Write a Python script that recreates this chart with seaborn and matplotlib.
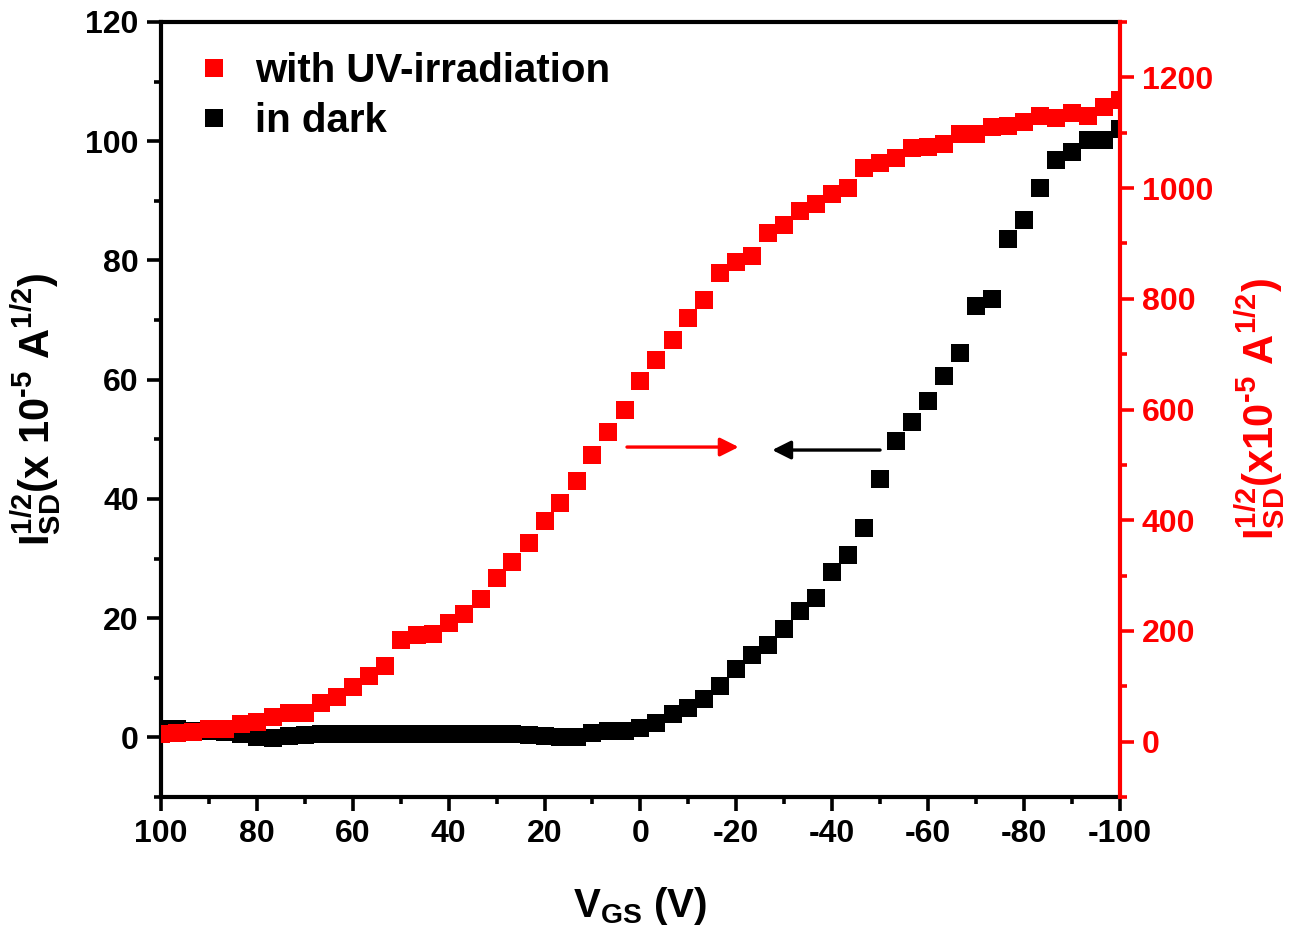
import matplotlib
matplotlib.use("Agg")
import numpy as np
import pandas as pd
import matplotlib.pyplot as plt
from matplotlib.ticker import MultipleLocator
from matplotlib.lines import Line2D
import seaborn as sns

# Gate-voltage sweep (V)
vgs = [100.0, 96.7, 93.3, 90.0, 86.7, 83.3, 80.0, 76.7, 73.3, 70.0,
       66.7, 63.3, 60.0, 56.7, 53.3, 50.0, 46.7, 43.3, 40.0, 36.7,
       33.3, 30.0, 26.7, 23.3, 20.0, 16.7, 13.3, 10.0, 6.7, 3.3,
       0.0, -3.3, -6.7, -10.0, -13.3, -16.7, -20.0, -23.3, -26.7, -30.0,
       -33.3, -36.7, -40.0, -43.3, -46.7, -50.0, -53.3, -56.7, -60.0, -63.3,
       -66.7, -70.0, -73.3, -76.7, -80.0, -83.3, -86.7, -90.0, -93.3, -96.7,
       -100.0]

# sqrt(I_SD) in the dark, units of 1e-5 A^1/2 (left axis)
dark = [1.4, 1.4, 1.1, 1.1, 0.9, 0.6, 0.1, -0.1, 0.25, 0.4,
        0.5, 0.55, 0.6, 0.6, 0.6, 0.6, 0.6, 0.6, 0.6, 0.6,
        0.6, 0.55, 0.5, 0.45, 0.25, 0.1, 0.1, 0.75, 1.1, 1.1,
        1.6, 2.4, 3.9, 5.0, 6.5, 8.6, 11.5, 13.8, 15.5, 18.2,
        21.2, 23.4, 27.8, 30.6, 35.2, 43.4, 49.8, 52.9, 56.5, 60.7,
        64.4, 72.4, 73.6, 83.6, 86.8, 92.2, 96.9, 98.2, 100.2, 100.2,
        102.1]

# sqrt(I_SD) under UV irradiation, units of 1e-5 A^1/2 (right axis)
uv = [14, 16, 18, 22, 23, 31, 36, 45, 51, 52,
      69, 81, 98, 118, 137, 184, 192, 195, 215, 231,
      257, 295, 325, 358, 398, 432, 470, 517, 560, 600,
      652, 689, 725, 766, 797, 846, 866, 878, 918, 934,
      958, 971, 990, 1000, 1036, 1045, 1054, 1072, 1074, 1079,
      1097, 1097, 1110, 1112, 1119, 1130, 1126, 1135, 1130, 1146,
      1159]

series_labels = ["with UV-irradiation", "in dark"]
series_colors = ["#ff0000", "#000000"]

df = pd.DataFrame({"vgs": vgs, "dark": dark, "uv": uv})

sns.set_style("ticks")
plt.rcParams["font.family"] = ["Liberation Sans", "DejaVu Sans"]
plt.rcParams["font.weight"] = "bold"
plt.rcParams["axes.labelweight"] = "bold"
plt.rcParams["text.color"] = "black"
plt.rcParams["axes.labelcolor"] = "black"
plt.rcParams["xtick.color"] = "black"
plt.rcParams["ytick.color"] = "black"
plt.rcParams["axes.unicode_minus"] = False
plt.rcParams["mathtext.fontset"] = "custom"
plt.rcParams["mathtext.rm"] = "Liberation Sans:bold"
plt.rcParams["mathtext.bf"] = "Liberation Sans:bold"
plt.rcParams["mathtext.it"] = "Liberation Sans:bold"
plt.rcParams["mathtext.default"] = "bf"

fig = plt.figure(figsize=(12.99, 9.36), dpi=100)
ax = fig.add_axes([0.124, 0.1485, 0.738, 0.828])
ax2 = ax.twinx()

msize = 165
sns.scatterplot(data=df, x="vgs", y="dark", ax=ax, marker="s", s=msize,
                color=series_colors[1], linewidth=0, legend=False)
sns.scatterplot(data=df, x="vgs", y="uv", ax=ax2, marker="s", s=msize,
                color=series_colors[0], linewidth=0, legend=False)

ax.set_xlim(100, -100)
ax.set_ylim(-10, 120)
ax2.set_ylim(-100, 1300)

spine_w = 3.0
for side in ["left", "bottom", "top"]:
    ax.spines[side].set_linewidth(spine_w)
    ax.spines[side].set_color("black")
ax.spines["right"].set_visible(False)
for side in ["left", "bottom", "top"]:
    ax2.spines[side].set_visible(False)
ax2.spines["right"].set_linewidth(spine_w)
ax2.spines["right"].set_color("#ff0000")

ax.xaxis.set_major_locator(MultipleLocator(20))
ax.xaxis.set_minor_locator(MultipleLocator(10))
ax.yaxis.set_major_locator(MultipleLocator(20))
ax.yaxis.set_minor_locator(MultipleLocator(10))
ax2.yaxis.set_major_locator(MultipleLocator(200))
ax2.yaxis.set_minor_locator(MultipleLocator(100))

tick_fs = 23
ax.tick_params(axis="both", which="major", direction="out", length=10, width=2.6,
               labelsize=tick_fs, pad=6, top=False, right=False, colors="black")
ax.tick_params(axis="both", which="minor", direction="out", length=5, width=2.6,
               top=False, right=False, colors="black")
ax2.tick_params(axis="y", which="major", direction="out", length=10, width=2.6,
                labelsize=tick_fs, pad=6, colors="#ff0000")
ax2.tick_params(axis="y", which="minor", direction="out", length=5, width=2.6,
                colors="#ff0000")

ax.set_xticks([100, 80, 60, 40, 20, 0, -20, -40, -60, -80, -100])
ax.set_xticklabels(["100", "80", "60", "40", "20", "0", "-20", "-40", "-60", "-80", "-100"])
ax.set_yticks([0, 20, 40, 60, 80, 100, 120])
ax2.set_yticks([0, 200, 400, 600, 800, 1000, 1200])

for a in (ax, ax2):
    for lbl in a.get_xticklabels() + a.get_yticklabels():
        lbl.set_fontweight("bold")
    for t in a.xaxis.get_major_ticks() + a.xaxis.get_minor_ticks() + \
             a.yaxis.get_major_ticks() + a.yaxis.get_minor_ticks():
        t.tick1line.set_solid_capstyle("round")
        t.tick2line.set_solid_capstyle("round")

ax.set_xlabel(r"V$_{GS}$ (V)", fontsize=29, labelpad=26, color="black")
ax.set_ylabel(r"I$_{SD}^{1/2}$(x 10$^{\text{-5}}$ A$^{1/2}$)", fontsize=30, labelpad=16,
              color="black")
ax2.set_ylabel(r"I$_{SD}^{1/2}$(x10$^{\text{-5}}$ A$^{1/2}$)", fontsize=30, labelpad=14,
               color="#ff0000")

# Sweep-direction arrows
ax.annotate("", xy=(-20.5, 48.7), xytext=(2.8, 48.7),
            arrowprops=dict(arrowstyle="-|>", color="#ff0000", lw=2.4,
                            mutation_scale=28, shrinkA=0, shrinkB=0,
                            capstyle="round"))
ax.annotate("", xy=(-27.5, 48.2), xytext=(-50.0, 48.2),
            arrowprops=dict(arrowstyle="-|>", color="#000000", lw=2.4,
                            mutation_scale=28, shrinkA=0, shrinkB=0,
                            capstyle="round"))

handles = [Line2D([], [], marker="s", ls="", color=c, markersize=13, markeredgewidth=0)
           for c in series_colors]
leg = ax2.legend(handles, series_labels, loc="upper left", bbox_to_anchor=(0.02, 0.982),
                 frameon=False, fontsize=29, handlelength=0.9, handletextpad=0.55,
                 labelspacing=0.3, borderaxespad=0)
for txt in leg.get_texts():
    txt.set_fontweight("bold")
    txt.set_color("black")

fig.savefig("out.png", dpi=100)
